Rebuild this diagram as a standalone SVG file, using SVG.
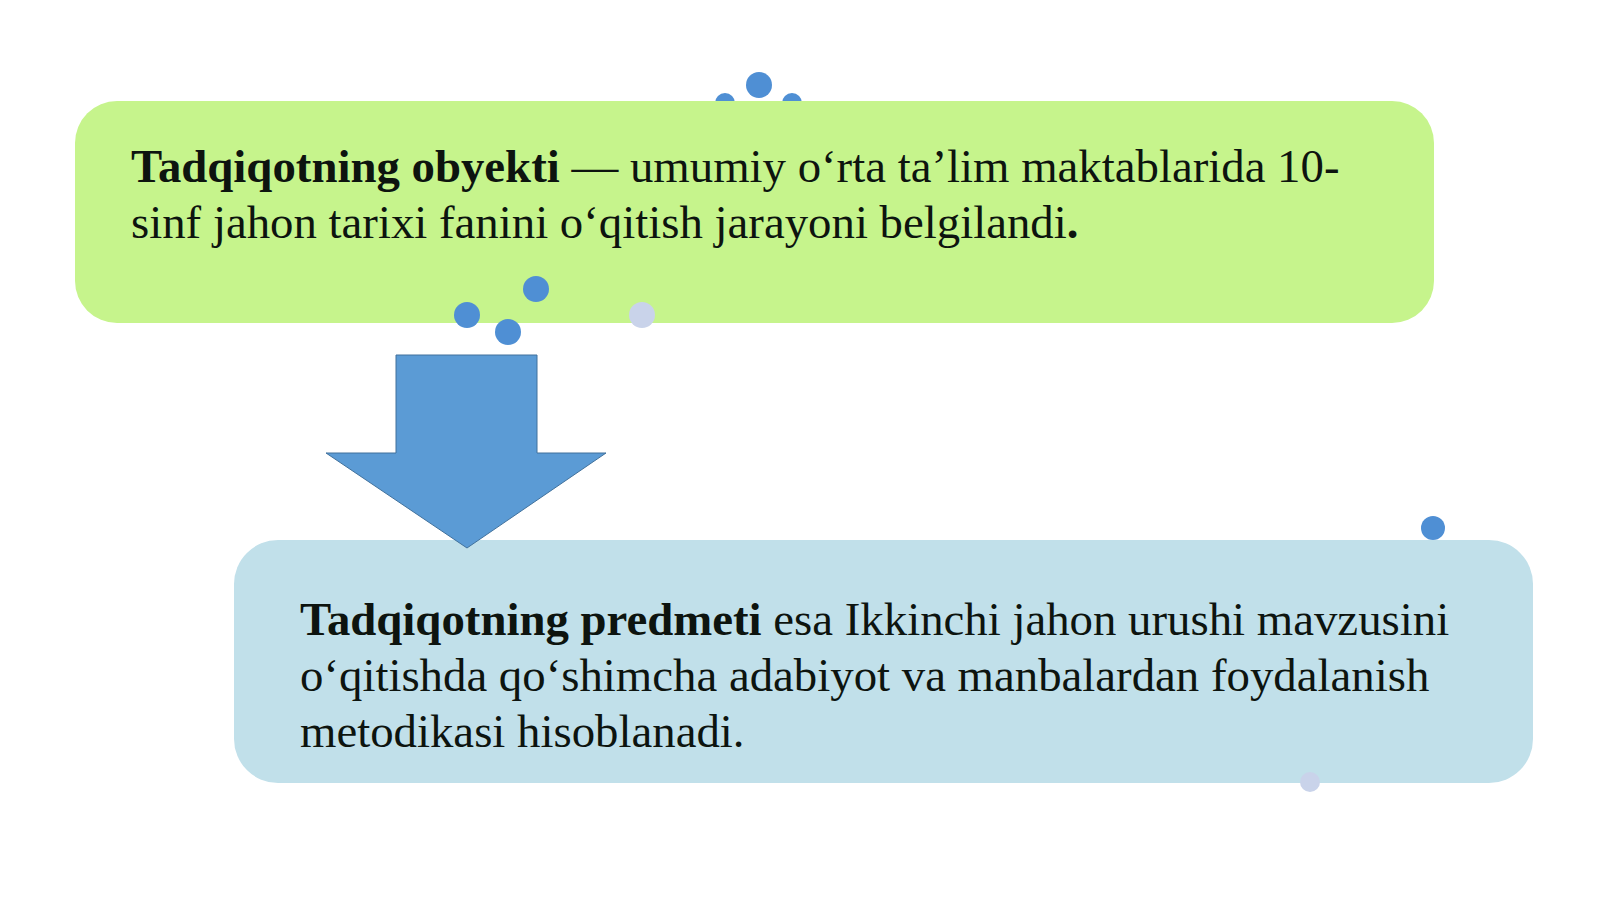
<svg xmlns="http://www.w3.org/2000/svg" width="1600" height="899" viewBox="0 0 1600 899">
<style>
.t{font-family:"Liberation Serif","Times New Roman",serif;font-size:46.8px;fill:#0d140f}
.b{font-weight:bold}
.dot{fill:#4f8fd4}
.fade{fill:#c9d3ea}
</style>
<rect width="1600" height="899" fill="#ffffff"/>
<g id="deco-back">
<circle class="dot" cx="725" cy="103" r="10"/>
<circle class="dot" cx="792" cy="103" r="10"/>
</g>
<g id="node-object">
<rect x="75" y="101" width="1359" height="222" rx="42" fill="#c6f48c"/>
<text class="t" x="131" y="182"><tspan class="b">Tadqiqotning obyekti</tspan> — umumiy o‘rta ta’lim maktablarida 10-</text>
<text class="t" x="131" y="238">sinf jahon tarixi fanini o‘qitish jarayoni belgilandi<tspan class="b">.</tspan></text>
</g>
<g id="node-subject">
<rect x="234" y="540" width="1299" height="243" rx="44" fill="#c1e0ea"/>
<text class="t" x="300" y="635"><tspan class="b">Tadqiqotning predmeti</tspan> esa Ikkinchi jahon urushi mavzusini</text>
<text class="t" x="300" y="691">o‘qitishda qo‘shimcha adabiyot va manbalardan foydalanish</text>
<text class="t" x="300" y="747">metodikasi hisoblanadi.</text>
</g>
<g id="connectors">
<polygon points="396,355 537,355 537,453 606,453 467,548 326,453 396,453" fill="#5b9bd5" stroke="#41719c" stroke-width="1"/>
</g>
<g id="deco-front">
<circle class="dot" cx="759" cy="85" r="13"/>
<circle class="dot" cx="467" cy="315" r="13"/>
<circle class="dot" cx="508" cy="332" r="13"/>
<circle class="dot" cx="536" cy="289" r="13"/>
<circle class="fade" cx="642" cy="315" r="13"/>
<circle class="dot" cx="1433" cy="528" r="12"/>
<circle class="fade" cx="1310" cy="782" r="10"/>
</g>
</svg>
